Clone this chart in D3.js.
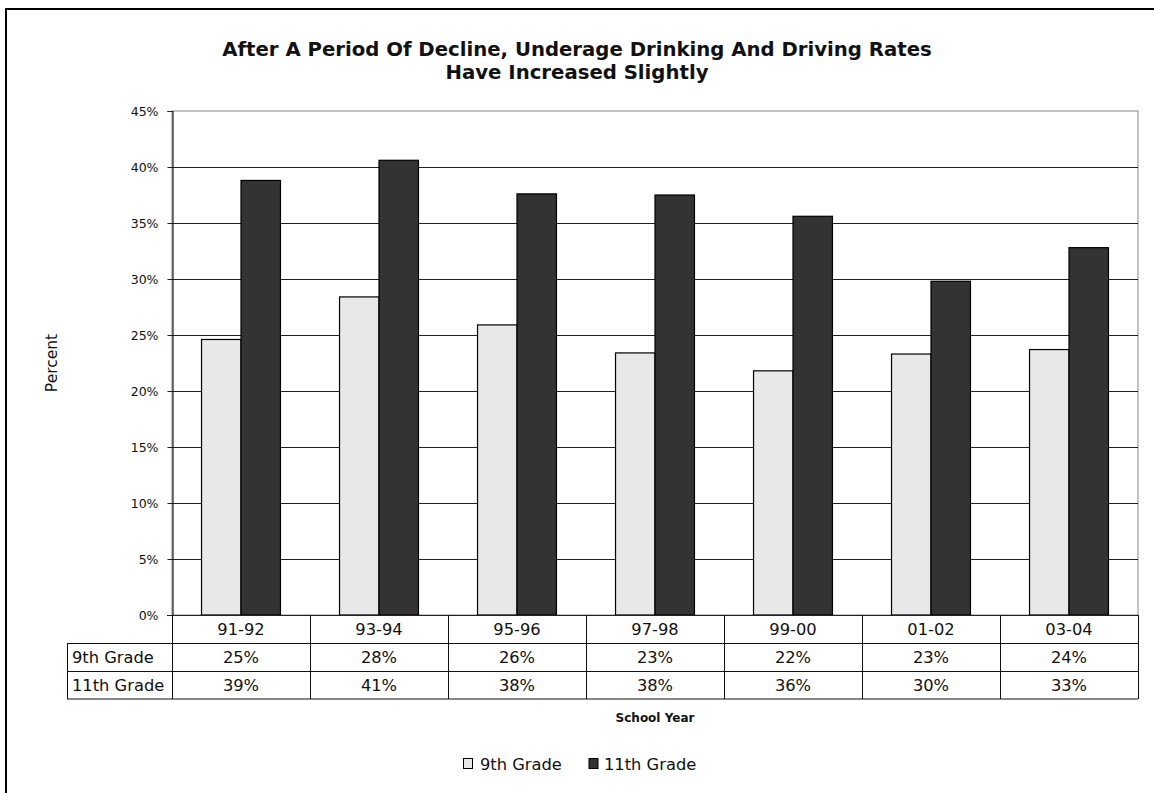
<!DOCTYPE html>
<html>
<head>
<meta charset="utf-8">
<script src="https://cdn.jsdelivr.net/npm/d3@7"></script>
<style>
  html, body { margin: 0; padding: 0; background: #fff; }
  svg { display: block; }
  text { font-family: "DejaVu Sans", Verdana, sans-serif; fill: #111; }
</style>
</head>
<body>
<svg id="chart" width="1154" height="793"></svg>
<script>
// School years on the category axis
const years = ["91-92", "93-94", "95-96", "97-98", "99-00", "01-02", "03-04"];
// Percent reporting drinking and driving, by grade
const grade9 = [24.6, 28.4, 25.9, 23.4, 21.8, 23.3, 23.7];
const grade11 = [38.8, 40.6, 37.6, 37.5, 35.6, 29.8, 32.8];
const seriesNames = ["9th Grade", "11th Grade"];
const seriesFill = ["#e8e8e8", "#333333"];
const yTicks = [0, 5, 10, 15, 20, 25, 30, 35, 40, 45];
const titleLines = ["After A Period Of Decline, Underage Drinking And Driving Rates",
                    "Have Increased Slightly"];

const seriesValues = [grade9, grade11];

const svg = d3.select("#chart");
const W = 1154, H = 793;

// frame
svg.append("rect").attr("x", 0).attr("y", 0).attr("width", W).attr("height", H).attr("fill", "#fff");
svg.append("rect")
  .attr("x", 6).attr("y", 9).attr("width", W + 20).attr("height", H + 20)
  .attr("fill", "none").attr("stroke", "#000").attr("stroke-width", 2);

// plot geometry
const plot = { left: 172, right: 1138, top: 111, bottom: 615 };

const x = d3.scaleBand().domain(years).range([plot.left, plot.right]).paddingInner(0).paddingOuter(0);
const groupW = x.bandwidth() * 0.572;
const xs = d3.scaleBand().domain(seriesNames).range([0, groupW]).padding(0);
const y = d3.scaleLinear().domain([0, 45]).range([plot.bottom, plot.top]);

// title
svg.append("g").selectAll("text").data(titleLines).join("text")
  .attr("x", 577).attr("y", (d, i) => 56 + i * 23)
  .attr("text-anchor", "middle")
  .style("font-weight", "bold").style("font-size", "19.7px")
  .text(d => d);

// plot area border (top/right light)
svg.append("rect")
  .attr("x", plot.left).attr("y", plot.top)
  .attr("width", plot.right - plot.left).attr("height", plot.bottom - plot.top)
  .attr("fill", "none").attr("stroke", "#9a9a9a").attr("stroke-width", 1.2);

// gridlines
svg.append("g").selectAll("line").data(yTicks.filter(t => t > 0 && t < 45)).join("line")
  .attr("x1", plot.left).attr("x2", plot.right)
  .attr("y1", d => Math.round(y(d)) + 0.5).attr("y2", d => Math.round(y(d)) + 0.5)
  .attr("stroke", "#222").attr("stroke-width", 1);

// y axis
const yAxis = d3.axisLeft(y).tickValues(yTicks).tickFormat(d => d + "%").tickSize(5).tickPadding(9);
const ya = svg.append("g").attr("transform", `translate(${plot.left + 0.5},0)`).call(yAxis);
ya.select(".domain").attr("stroke", "#222").attr("stroke-width", 1.2);
ya.selectAll(".tick line").attr("stroke", "#222");
ya.selectAll(".tick text")
  .style("font-family", "'DejaVu Sans', Verdana, sans-serif")
  .style("font-size", "12.5px").attr("fill", "#111");

// bars
const groups = svg.append("g").selectAll("g").data(years).join("g")
  .attr("transform", d => `translate(${x(d) + (x.bandwidth() - groupW) / 2},0)`);
groups.selectAll("rect")
  .data((d, i) => seriesNames.map((s, k) => ({ s, k, v: seriesValues[k][i] })))
  .join("rect")
  .attr("x", d => xs(d.s))
  .attr("y", d => y(d.v))
  .attr("width", xs.bandwidth())
  .attr("height", d => y(0) - y(d.v))
  .attr("fill", d => seriesFill[d.k])
  .attr("stroke", "#000").attr("stroke-width", 1.2);

// x axis baseline
svg.append("line")
  .attr("x1", plot.left - 5).attr("x2", plot.right)
  .attr("y1", plot.bottom + 0.5).attr("y2", plot.bottom + 0.5)
  .attr("stroke", "#222").attr("stroke-width", 1.2);

// data table
const rowH = 28;
const rows = [plot.bottom, plot.bottom + rowH, plot.bottom + 2 * rowH, plot.bottom + 83.5];
const headerLeft = 67;
const tbl = svg.append("g").attr("stroke", "#111").attr("stroke-width", 1);
// horizontal lines
tbl.append("line").attr("x1", headerLeft).attr("x2", plot.right)
  .attr("y1", rows[1] + 0.5).attr("y2", rows[1] + 0.5);
tbl.append("line").attr("x1", headerLeft).attr("x2", plot.right)
  .attr("y1", rows[2] + 0.5).attr("y2", rows[2] + 0.5);
tbl.append("line").attr("x1", headerLeft).attr("x2", plot.right)
  .attr("y1", rows[3] + 0.5).attr("y2", rows[3] + 0.5);
// vertical lines at category boundaries
const bounds = years.map(d => x(d)).concat([plot.right]);
tbl.selectAll("line.v").data(bounds).join("line").attr("class", "v")
  .attr("x1", d => Math.round(d) + 0.5).attr("x2", d => Math.round(d) + 0.5)
  .attr("y1", rows[0]).attr("y2", rows[3] + 0.5);
tbl.append("line").attr("x1", headerLeft + 0.5).attr("x2", headerLeft + 0.5)
  .attr("y1", rows[1]).attr("y2", rows[3] + 0.5);

const tableFont = "16.3px";
svg.append("g").selectAll("text").data(years).join("text")
  .attr("x", d => x(d) + x.bandwidth() / 2).attr("y", rows[0] + 20)
  .attr("text-anchor", "middle").style("font-size", tableFont)
  .text(d => d);
seriesNames.forEach((s, k) => {
  const ry = rows[k + 1] + 20;
  svg.append("text").attr("x", headerLeft + 5).attr("y", ry)
    .style("font-size", tableFont).text(s);
  svg.append("g").selectAll("text").data(seriesValues[k]).join("text")
    .attr("x", (d, i) => x(years[i]) + x.bandwidth() / 2).attr("y", ry)
    .attr("text-anchor", "middle").style("font-size", tableFont)
    .text(d => Math.round(d) + "%");
});

// axis titles
svg.append("text")
  .attr("x", (plot.left + plot.right) / 2).attr("y", 722)
  .attr("text-anchor", "middle")
  .style("font-weight", "bold").style("font-size", "12px")
  .text("School Year");
svg.append("text")
  .attr("transform", "translate(56.5,363) rotate(-90)")
  .attr("text-anchor", "middle").style("font-size", "15.5px")
  .text("Percent");

// legend
const legend = svg.append("g");
const legendItems = [
  { name: seriesNames[0], fill: seriesFill[0], sx: 463, tx: 480 },
  { name: seriesNames[1], fill: seriesFill[1], sx: 588.5, tx: 604 }
];
legend.selectAll("rect").data(legendItems).join("rect")
  .attr("x", d => d.sx + 0.5).attr("y", 758.5).attr("width", 9).attr("height", 10)
  .attr("fill", d => d.fill).attr("stroke", "#000").attr("stroke-width", 1);
legend.selectAll("text").data(legendItems).join("text")
  .attr("x", d => d.tx).attr("y", 770)
  .style("font-size", "16.3px")
  .text(d => d.name);
</script>
</body>
</html>
